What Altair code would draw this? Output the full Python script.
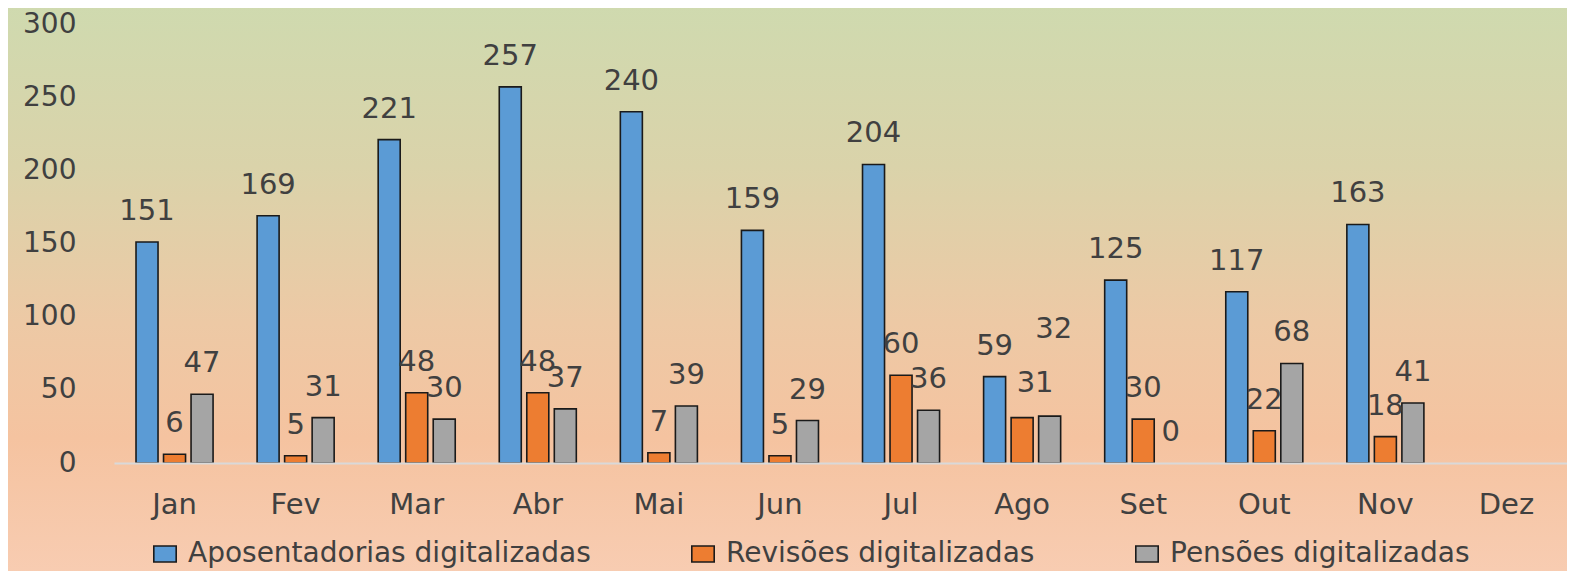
import altair as alt
import pandas as pd

months = ["Jan", "Fev", "Mar", "Abr", "Mai", "Jun", "Jul", "Ago", "Set", "Out", "Nov", "Dez"]
series = ["Aposentadorias digitalizadas", "Revisões digitalizadas", "Pensões digitalizadas"]
data_months = ["Jan", "Fev", "Mar", "Abr", "Mai", "Jun", "Jul", "Ago", "Set", "Out", "Nov"]
aposentadorias = [151, 169, 221, 257, 240, 159, 204, 59, 125, 117, 163]
revisoes = [6, 5, 48, 48, 7, 5, 60, 31, 30, 22, 18]
pensoes = [47, 31, 30, 37, 39, 29, 36, 32, 0, 68, 41]
colors = ["#5B9BD5", "#ED7D31", "#A5A5A5"]
y_ticks = [0, 50, 100, 150, 200, 250, 300]

rows = []
for name, vals in zip(series, [aposentadorias, revisoes, pensoes]):
    for m, v in zip(data_months, vals):
        rows.append({"Mês": m, "Série": name, "Valor": v})
df = pd.DataFrame(rows)

W, H = 1453, 439
FONT = "DejaVu Sans"
TXT = "#404040"

x_enc = alt.X("Mês:N", sort=months,
              scale=alt.Scale(domain=months, paddingInner=0, paddingOuter=0),
              axis=alt.Axis(title=None, labelAngle=0, labelFontSize=29, labelFont=FONT,
                            labelColor=TXT, ticks=False, tickSize=0, labelPadding=27,
                            domainColor="#D9D9D9", domainWidth=2, zindex=1))
xo_enc = alt.XOffset("Série:N", sort=series,
                     scale=alt.Scale(domain=series, paddingInner=0.2, paddingOuter=0.8))
y_enc = alt.Y("Valor:Q",
              scale=alt.Scale(domain=[0, 300], nice=False),
              axis=alt.Axis(title=None, values=y_ticks, labelFontSize=28, labelFont=FONT,
                            labelColor=TXT, ticks=False, domain=False, grid=False,
                            labelPadding=38, zindex=1))

bg = alt.Chart(pd.DataFrame({"a": [0]})).mark_rect(
    color=alt.Gradient(
        gradient="linear",
        stops=[alt.GradientStop(color="#CFDAAF", offset=0),
               alt.GradientStop(color="#DAD3AA", offset=0.28),
               alt.GradientStop(color="#EDC9A5", offset=0.55),
               alt.GradientStop(color="#F5C3A0", offset=0.75),
               alt.GradientStop(color="#F8CDB3", offset=1)],
        x1=0, x2=0, y1=0, y2=1)
).encode(x=alt.value(-120), x2=alt.value(W + 20), y=alt.value(-20), y2=alt.value(H + 120))

bars = alt.Chart(df).transform_filter("datum['Valor'] > 0").mark_bar(
    stroke="#1a1a1a", strokeWidth=1.6
).encode(
    x=x_enc, xOffset=xo_enc, y=y_enc,
    color=alt.Color("Série:N", sort=series,
                    scale=alt.Scale(domain=series, range=colors),
                    legend=alt.Legend(title=None, orient="none", legendX=37, legendY=516,
                                      direction="horizontal",
                                      symbolType="M-1.4,-1H1.4V1H-1.4Z", symbolSize=256,
                                      symbolStrokeColor="#1a1a1a", symbolStrokeWidth=1.6,
                                      symbolOpacity=1,
                                      labelFontSize=28, labelFont=FONT, labelColor=TXT,
                                      labelOffset=9, columnPadding=97,
                                      labelLimit=600)),
)

is_ago_rev = "datum['Mês'] == 'Ago' && datum['Série'] == 'Revisões digitalizadas'"
is_ago_pen = "datum['Mês'] == 'Ago' && datum['Série'] == 'Pensões digitalizadas'"

def label_layer(flt, dx, dy):
    return alt.Chart(df).transform_filter(flt).mark_text(
        baseline="alphabetic", dx=dx, dy=dy, fontSize=29, font=FONT, color=TXT
    ).encode(x=x_enc, xOffset=xo_enc, y=y_enc, text=alt.Text("Valor:Q"))

labels = label_layer(f"!({is_ago_rev}) && !({is_ago_pen})", 0, -22)
label_rev = label_layer(is_ago_rev, 13, -26)
label_pen = label_layer(is_ago_pen, 4, -78)

chart = alt.layer(bg, bars, labels, label_rev, label_pen).properties(
    width=W, height=H,
    padding={"left": 106, "top": 16, "right": 0, "bottom": 108},
    autosize=alt.AutoSizeParams(type="none"),
).configure_view(stroke=None)

chart.save("out.html", embed_options={"renderer": "svg", "actions": False})
